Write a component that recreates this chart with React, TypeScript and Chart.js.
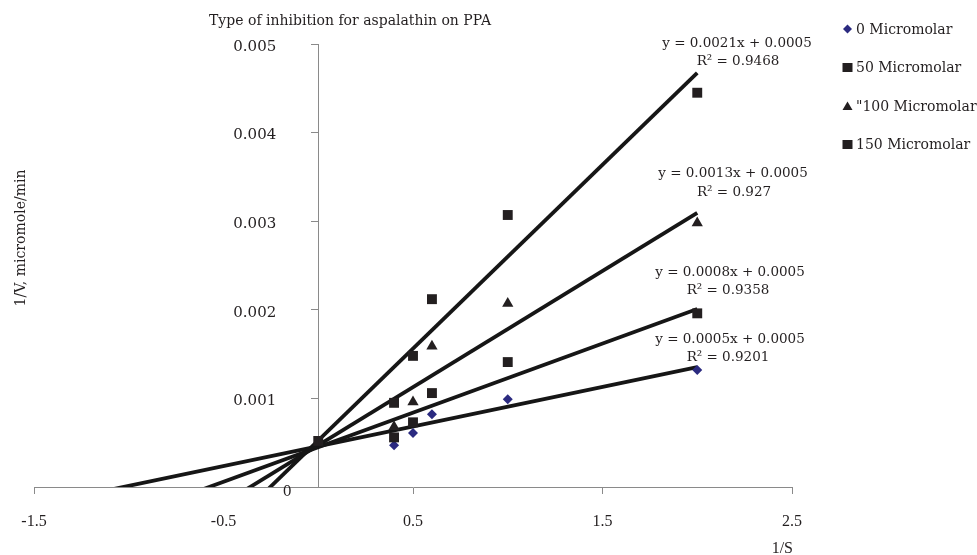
import React, { useEffect, useRef } from 'react';
import { Chart, registerables } from 'chart.js';

Chart.register(...registerables);

// ---- data ----
const seriesNames = ['0 Micromolar', '50 Micromolar', '"100 Micromolar', '150 Micromolar'];
const invS = [0.4, 0.5, 0.6, 1.0, 2.0];
const invV0 = [0.00047, 0.00061, 0.00082, 0.00099, 0.00132];
const invV50 = [0.00056, 0.00073, 0.00106, 0.00141, 0.00196];
const invV100 = [0.00068, 0.00096, 0.00159, 0.00207, 0.00298];
const invV150 = [0.00095, 0.00148, 0.00212, 0.00307, 0.00445];
const extraS150 = [0];
const extraV150 = [0.00052];

const trendSlopes = [0.000447, 0.00078, 0.001311, 0.002074];
const trendIntercepts = [0.00046, 0.000449, 0.000471, 0.000525];
const trendFrom = -1.5;
const trendTo = 2.0;

const equationLabels = ['y = 0.0005x + 0.0005', 'y = 0.0008x + 0.0005', 'y = 0.0013x + 0.0005', 'y = 0.0021x + 0.0005'];
const r2Labels = ['R² = 0.9201', 'R² = 0.9358', 'R² = 0.927', 'R² = 0.9468'];

const xTickValues = [-1.5, -0.5, 0.5, 1.5, 2.5];
const xTickLabels = ['-1.5', '-0.5', '0.5', '1.5', '2.5'];
const yTickValues = [0, 0.001, 0.002, 0.003, 0.004, 0.005];
const yTickLabels = ['0', '0.001', '0.002', '0.003', '0.004', '0.005'];

const titleText = 'Type of inhibition for aspalathin on PPA';
const yTitle = '1/V, micromole/min';
const xTitle = '1/S';

const NAVY = '#2b2a80';
const DARK = '#231f20';
const AXIS = '#8a8a8a';
const TEXT = '#231f20';

const pointStyles = ['rectRot', 'rect', 'triangle', 'rect'];
const pointRadii = [5, 7, 6.5, 7];
const pointColors = [NAVY, DARK, DARK, DARK];

const annotate = {
  id: 'annotate',
  afterDraw(chart: any) {
    const ctx = chart.ctx as CanvasRenderingContext2D;
    const xs = chart.scales.x;
    const ys = chart.scales.y;
    ctx.save();
    ctx.fillStyle = TEXT;
    ctx.textBaseline = 'alphabetic';

    // title
    ctx.font = '14px "DejaVu Serif"';
    ctx.textAlign = 'center';
    ctx.fillText(titleText, 350, 24.5);

    // y axis title
    ctx.save();
    ctx.translate(21, 238);
    ctx.rotate(-Math.PI / 2);
    ctx.textBaseline = 'middle';
    ctx.fillText(yTitle, 0, 0);
    ctx.restore();

    // x axis title
    ctx.font = '16px "Liberation Serif"';
    ctx.textAlign = 'right';
    ctx.fillText(xTitle, 793, 553);

    // y tick labels (to the left of the axis that crosses at x = 0)
    const axisX = xs.getPixelForValue(0);
    ctx.font = '15px "DejaVu Serif"';
    ctx.textAlign = 'right';
    ctx.textBaseline = 'middle';
    for (let i = 1; i < yTickValues.length; i++) {
      const py = ys.getPixelForValue(yTickValues[i]);
      ctx.fillText(yTickLabels[i], axisX - 42, py + 3);
    }
    // origin label
    ctx.font = '14px "DejaVu Serif"';
    ctx.textAlign = 'center';
    ctx.fillText(yTickLabels[0], axisX - 31, ys.getPixelForValue(0) + 5);

    // equations
    const eqPos = [
      [730, 343.3, 728, 361],
      [730, 275.7, 728, 294],
      [733, 177.3, 734, 195.7],
      [737, 46.5, 738, 65],
    ];
    ctx.textBaseline = 'alphabetic';
    ctx.font = '13.5px "DejaVu Serif"';
    for (let i = 0; i < equationLabels.length; i++) {
      const p = eqPos[i];
      ctx.fillText(equationLabels[i], p[0], p[1]);
      ctx.fillText(r2Labels[i], p[2], p[3]);
    }

    // legend
    ctx.font = '14px "DejaVu Serif"';
    ctx.textAlign = 'left';
    ctx.textBaseline = 'middle';
    for (let i = 0; i < seriesNames.length; i++) {
      const cy = 29 + i * 38.5;
      const cx = 847.5;
      ctx.fillStyle = pointColors[i];
      ctx.beginPath();
      if (pointStyles[i] === 'rectRot') {
        ctx.moveTo(cx, cy - 4.5);
        ctx.lineTo(cx + 4.5, cy);
        ctx.lineTo(cx, cy + 4.5);
        ctx.lineTo(cx - 4.5, cy);
        ctx.closePath();
      } else if (pointStyles[i] === 'triangle') {
        ctx.moveTo(cx, cy - 4.5);
        ctx.lineTo(cx + 5, cy + 4);
        ctx.lineTo(cx - 5, cy + 4);
        ctx.closePath();
      } else {
        ctx.rect(cx - 5, cy - 4.5, 10, 9);
      }
      ctx.fill();
      ctx.fillStyle = TEXT;
      ctx.fillText(seriesNames[i], 856, cy + 1);
    }
    ctx.restore();
  },
};

export default function App() {
  const canvasRef = useRef<HTMLCanvasElement | null>(null);

  useEffect(() => {
    const canvas = canvasRef.current;
    if (!canvas) return;

    const pointSets = [invV0, invV50, invV100, invV150];
    const pointDatasets = pointSets.map((ys, i) => {
      const data = invS.map((x, j) => ({ x, y: ys[j] }));
      if (i === 3) {
        extraS150.forEach((x, j) => data.unshift({ x, y: extraV150[j] }));
      }
      return {
        type: 'scatter' as const,
        label: seriesNames[i],
        data,
        showLine: false,
        pointStyle: pointStyles[i],
        pointRadius: pointRadii[i],
        pointBackgroundColor: pointColors[i],
        pointBorderColor: pointColors[i],
        pointBorderWidth: 0,
        order: 4 - i,
      };
    });

    const trendDatasets = trendSlopes.map((m, i) => ({
      type: 'line' as const,
      label: 'trend ' + seriesNames[i],
      data: [trendFrom, trendTo].map((x) => ({ x, y: m * x + trendIntercepts[i] })),
      borderColor: '#161616',
      borderWidth: 3.8,
      pointRadius: 0,
      fill: false,
      tension: 0,
      clip: 0,
      order: 10,
    }));

    const chart = new Chart(canvas, {
      type: 'scatter',
      data: { datasets: [...trendDatasets, ...pointDatasets] as any },
      options: {
        responsive: false,
        animation: false,
        events: [],
        layout: { padding: { left: 34, right: 185, top: 44, bottom: 0 } },
        plugins: {
          legend: { display: false },
          title: { display: false },
          tooltip: { enabled: false },
        },
        scales: {
          x: {
            type: 'linear',
            min: -1.5,
            max: 2.5,
            afterBuildTicks: (s: any) => {
              s.ticks = xTickValues.map((v) => ({ value: v }));
            },
            afterFit: (s: any) => {
              s.height = 68;
            },
            grid: {
              drawOnChartArea: false,
              drawTicks: true,
              tickLength: 7,
              tickColor: (c: any) => (c.tick && c.tick.value === -0.5 ? 'rgba(0,0,0,0)' : AXIS),
            },
            border: { color: AXIS, width: 1 },
            ticks: {
              autoSkip: false,
              maxRotation: 0,
              padding: 18,
              color: TEXT,
              font: { family: 'Liberation Serif', size: 16 },
              callback: (v: any) => {
                const idx = xTickValues.indexOf(Number(v));
                return idx >= 0 ? xTickLabels[idx] : '';
              },
            },
          },
          y: {
            type: 'linear',
            min: 0,
            max: 0.005,
            position: { x: 0 } as any,
            afterBuildTicks: (s: any) => {
              s.ticks = yTickValues.map((v) => ({ value: v }));
            },
            afterFit: (s: any) => {
              s.width = 0;
            },
            grid: {
              drawOnChartArea: false,
              drawTicks: true,
              tickLength: 7,
              tickColor: AXIS,
            },
            border: { color: AXIS, width: 1 },
            ticks: {
              display: false,
            },
          },
        },
      },
      plugins: [annotate],
    });

    return () => chart.destroy();
  }, []);

  return (
    <div style={{ position: 'fixed', left: 0, top: 0, width: 977, height: 555, background: '#fff' }}>
      <canvas ref={canvasRef} width={977} height={555} style={{ display: 'block' }} />
    </div>
  );
}
